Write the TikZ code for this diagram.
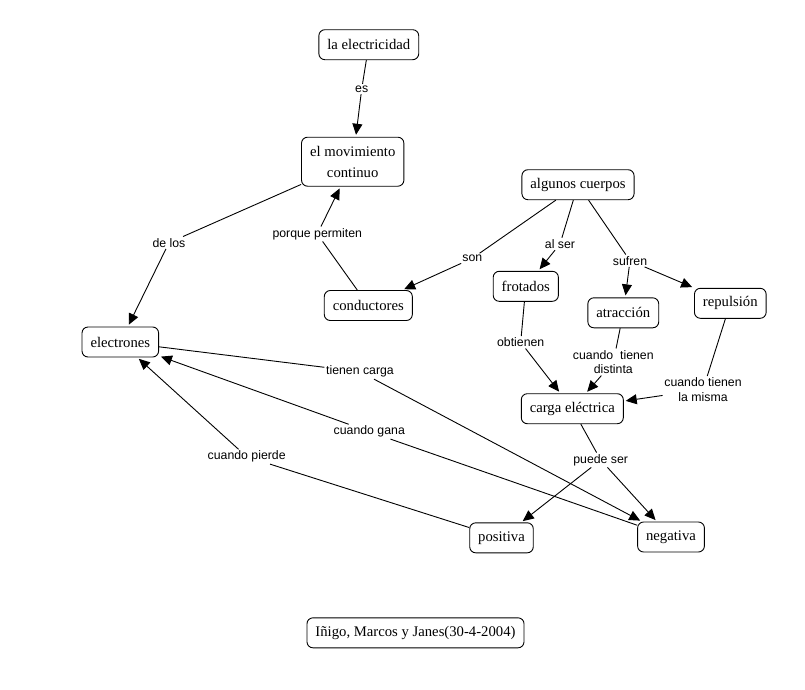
\documentclass[tikz,border=0pt]{standalone}
\usepackage{fontspec}
\setmainfont{Liberation Serif}
\newfontfamily\lsans{Liberation Sans}
\usetikzlibrary{arrows.meta}
\begin{document}
\begin{tikzpicture}[x=1pt,y=-1pt,
  concept/.style={draw, rounded corners=6pt, line width=0.9pt, minimum height=30pt,
    inner xsep=8.5pt, inner ysep=2pt, font=\fontsize{14.7}{21}\selectfont, align=center},
  lnk/.style={inner sep=1.5pt, font=\lsans\fontsize{12.3}{14.7}\selectfont, align=center},
  conn/.style={line width=0.9pt},
  arr/.style={conn, -{Triangle[length=11pt,width=10pt]}, shorten >=2pt}]
\useasboundingbox (0,0) rectangle (805,689);
% concepts
\node[concept] (elec) at (368.8,44.7) {la electricidad};
\node[concept, minimum height=49pt] (mov) at (352.7,161.7) {el movimiento\\continuo};
\node[concept] (alg) at (578,184.7) {algunos cuerpos};
\node[concept] (frot) at (525.8,286.3) {frotados};
\node[concept] (atr) at (623.3,312.8) {atracción};
\node[concept] (rep) at (730.3,303.3) {repulsión};
\node[concept] (cond) at (368.3,305.5) {conductores};
\node[concept] (etr) at (120.3,342) {electrones};
\node[concept] (carga) at (572.3,408.7) {carga eléctrica};
\node[concept] (pos) at (501.5,537.8) {positiva};
\node[concept] (neg) at (671,537) {negativa};
\node[concept] (autor) at (415.5,632.8) {Iñigo, Marcos y Janes(30-4-2004)};
% linking phrases
\node[lnk] (es) at (361.7,89) {es};
\node[lnk] (delos) at (169,242.7) {de los};
\node[lnk] (porque) at (317.3,234) {porque permiten};
\node[lnk] (son) at (472.3,258.3) {son};
\node[lnk] (alser) at (560,244) {al ser};
\node[lnk] (sufren) at (630,260.7) {sufren};
\node[lnk] (obt) at (520.7,342.3) {obtienen};
\node[lnk] (distinta) at (613.3,362) {cuando\ \ tienen\\distinta};
\node[lnk] (misma) at (703,389.5) {cuando tienen\\la misma};
\node[lnk] (tcarga) at (360,371.7) {tienen carga};
\node[lnk] (gana) at (369.3,431.7) {cuando gana};
\node[lnk] (pierde) at (246.7,456.7) {cuando pierde};
\node[lnk] (puede) at (600.7,460) {puede ser};
% connectors
\draw[conn] (elec) -- (es); \draw[arr] (es) -- (mov);
\draw[conn] (mov) -- (delos); \draw[arr] (delos) -- (etr);
\draw[conn] (cond) -- (porque); \draw[arr] (porque) -- (mov);
\draw[conn] (alg) -- (son); \draw[arr] (son) -- (cond);
\draw[conn] (alg) -- (alser); \draw[arr] (alser) -- (frot);
\draw[conn] (alg) -- (sufren); \draw[arr] (sufren) -- (atr); \draw[arr] (sufren) -- (rep);
\draw[conn] (frot) -- (obt); \draw[arr] (obt) -- (carga);
\draw[conn] (atr) -- (distinta); \draw[arr] (distinta) -- (carga);
\draw[conn] (rep) -- (misma); \draw[arr] (misma) -- (carga);
\draw[conn] (etr) -- (tcarga); \draw[arr] (tcarga) -- (neg);
\draw[conn] (neg) -- (gana); \draw[arr] (gana) -- (etr);
\draw[conn] (pos) -- (pierde); \draw[arr] (pierde) -- (etr);
\draw[conn] (carga) -- (puede); \draw[arr] (puede) -- (pos); \draw[arr] (puede) -- (neg);
\end{tikzpicture}
\end{document}
